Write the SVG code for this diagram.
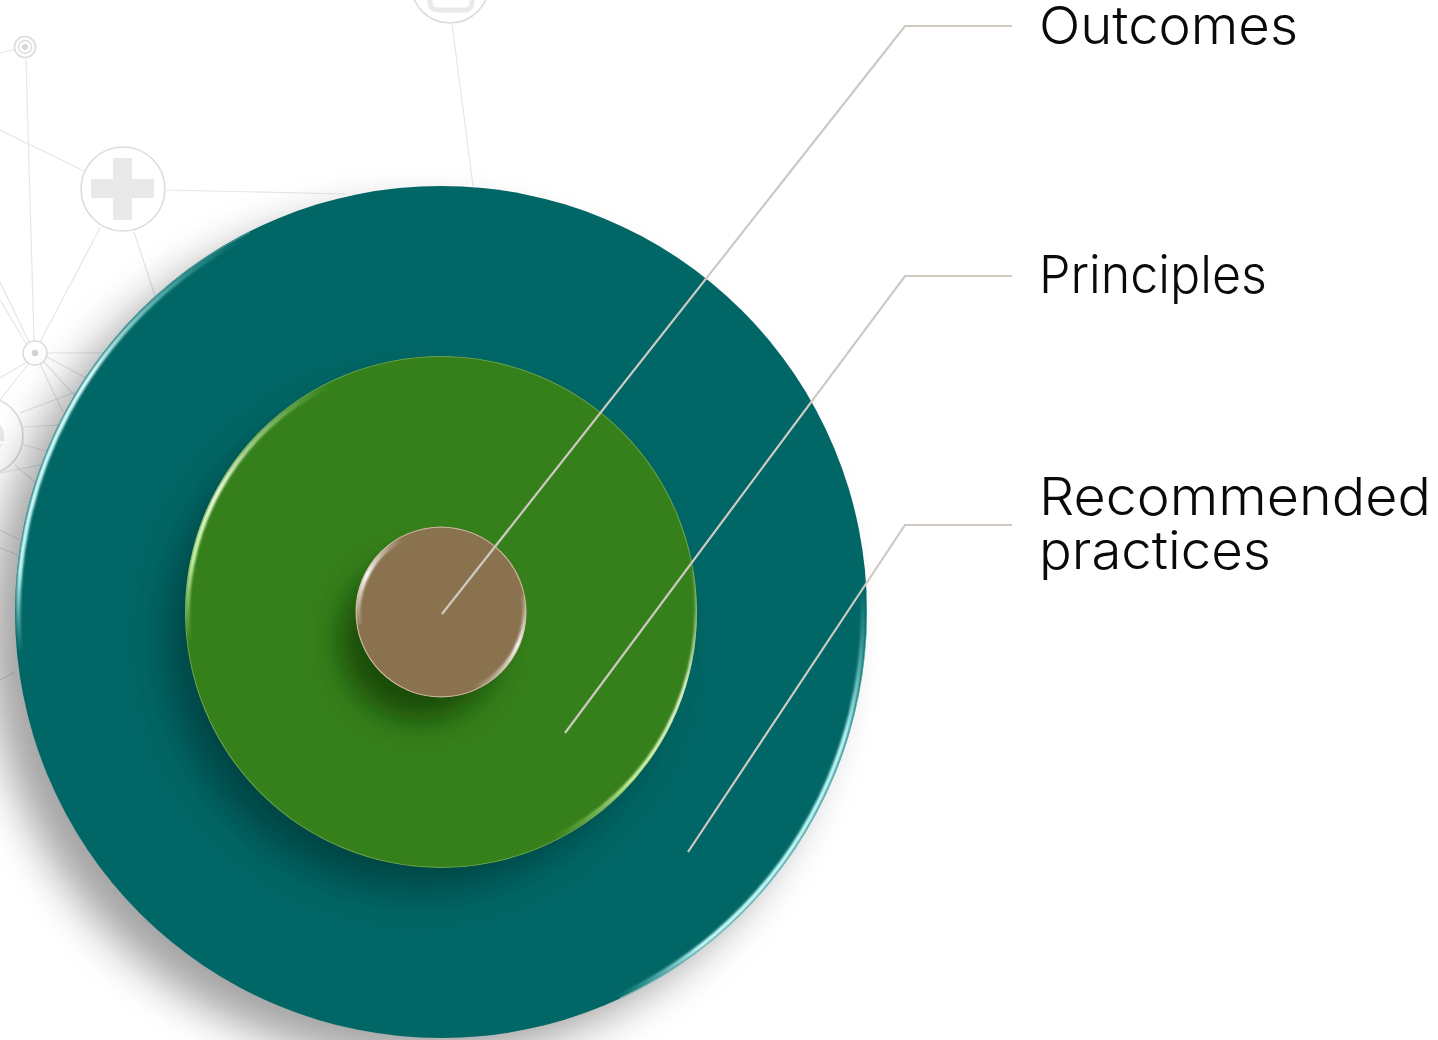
<svg xmlns="http://www.w3.org/2000/svg" width="1438" height="1040" viewBox="0 0 1438 1040">
<style>
.net{fill:none;stroke:#e6e6e6;stroke-width:1.2}
.ring{fill:#fff;stroke:#dcdcdc;stroke-width:1.6}
.glyph{fill:#e9e9e9}
.lead{fill:none;stroke:#cfc9c2;stroke-width:2.2}
.label{font-family:Inter,"Open Sans","Liberation Sans",sans-serif;font-weight:300;font-size:52px;fill:#0a0a0a}
.rim{fill:none;filter:url(#soft)}
</style>
<defs>
<filter id="shadowBig" x="-20%" y="-20%" width="140%" height="140%"><feGaussianBlur stdDeviation="22"/></filter>
<filter id="shadowMid" x="-30%" y="-30%" width="160%" height="160%"><feGaussianBlur stdDeviation="20"/></filter>
<filter id="shadowSmall" x="-50%" y="-50%" width="200%" height="200%"><feGaussianBlur stdDeviation="15"/></filter>
<filter id="soft" x="-10%" y="-10%" width="120%" height="120%"><feGaussianBlur stdDeviation=".8"/></filter>
<clipPath id="clipBig"><circle cx="441" cy="612" r="426"/></clipPath>
<clipPath id="clipMid"><circle cx="441" cy="612" r="256"/></clipPath>
<clipPath id="clipSmall"><circle cx="441" cy="612" r="85.5"/></clipPath>
<linearGradient id="bigA" gradientUnits="userSpaceOnUse" x1="16" y1="650" x2="240" y2="240"><stop offset="0" stop-color="#b4f8f8" stop-opacity="0"/><stop offset=".15" stop-color="#c8fcfc"/><stop offset=".6" stop-color="#e0ffff"/><stop offset="1" stop-color="#a6f4f4" stop-opacity="0"/></linearGradient>
<linearGradient id="bigB" gradientUnits="userSpaceOnUse" x1="866" y1="590" x2="610" y2="1005"><stop offset="0" stop-color="#a6f4f4" stop-opacity="0"/><stop offset=".28" stop-color="#c0fcfc"/><stop offset=".8" stop-color="#d0ffff"/><stop offset=".98" stop-color="#a6f4f4" stop-opacity="0"/></linearGradient>
<linearGradient id="midA" gradientUnits="userSpaceOnUse" x1="186" y1="640" x2="330" y2="385"><stop offset="0" stop-color="#d8ffb8" stop-opacity="0"/><stop offset=".25" stop-color="#c8f4a8"/><stop offset=".5" stop-color="#f0ffe0"/><stop offset="1" stop-color="#d8ffb8" stop-opacity="0"/></linearGradient>
<linearGradient id="midB" gradientUnits="userSpaceOnUse" x1="696" y1="570" x2="550" y2="845"><stop offset="0" stop-color="#d8ffb8" stop-opacity=".1"/><stop offset=".35" stop-color="#f4ffe8"/><stop offset=".7" stop-color="#c8f4a0"/><stop offset=".98" stop-color="#a8e080" stop-opacity="0"/></linearGradient>
<linearGradient id="smallA" gradientUnits="userSpaceOnUse" x1="358" y1="625" x2="402" y2="538"><stop offset="0" stop-color="#fff" stop-opacity=".1"/><stop offset=".5" stop-color="#fff"/><stop offset="1" stop-color="#fff" stop-opacity="0"/></linearGradient>
<linearGradient id="smallB" gradientUnits="userSpaceOnUse" x1="526" y1="595" x2="475" y2="690"><stop offset="0" stop-color="#fff" stop-opacity=".1"/><stop offset=".45" stop-color="#fff"/><stop offset="1" stop-color="#fff" stop-opacity="0"/></linearGradient>
</defs>
<rect width="1438" height="1040" fill="#fff"/>
<g id="background-network">
<path class="net" d="M452 24L473 186M166 190L345 194M0 130L84 171M26 58L34 341M100 228L40 342M134 232L155 296M0 53L14 50M0 282L29 342M0 300L27 345M45 353L105 353M47 357L90 380M44 362L75 396M40 364L63 412M27 362L0 378M29 363L0 400M20 413L75 392M23 427L60 425M23 445L50 452M0 473L40 465M15 465L38 485M0 530L20 540M0 548L18 555M0 680L15 672"/>
<circle class="ring" cx="450" cy="-16" r="39"/>
<rect x="430" y="-24" width="42" height="34" rx="7" fill="none" stroke="#e9e9e9" stroke-width="5"/>
<circle class="ring" cx="25" cy="47" r="10.500"/>
<circle cx="25" cy="47" r="6.500" fill="none" stroke="#dcdcdc" stroke-width="1.400"/>
<circle cx="25" cy="47" r="3" fill="#d6d6d6"/>
<circle class="ring" cx="123" cy="189" r="42"/>
<path class="glyph" d="M113 158H132V179H154V198H132V220H113V198H91V179H113Z"/>
<circle class="ring" cx="35" cy="353" r="12"/>
<circle cx="35" cy="353" r="3.200" fill="#d2d2d2"/>
<circle class="ring" cx="-16" cy="436" r="39"/>
<path class="glyph" d="M-16 418A18 18 0 0 1 4 434V441H-16V434H-4A10 10 0 0 0 -16 426ZM-16 444H2A18 18 0 0 1 -16 454V448Z"/>
</g>
<g id="disc-outer">
<circle cx="413" cy="636" r="424" fill="#000" opacity=".36" filter="url(#shadowBig)"/>
<circle cx="441" cy="612" r="426" fill="#016766"/>
<g clip-path="url(#clipBig)">
<path class="rim" d="M20 650A422 422 0 0 1 240 240" stroke="url(#bigA)" stroke-width="4.400"/>
<path class="rim" d="M862.500 590A422 422 0 0 1 610 1000" stroke="url(#bigB)" stroke-width="4.400"/>
<path d="M15.800 590A425.500 425.500 0 0 1 250 232" fill="none" stroke="#4a9c9c" stroke-width="1.500" opacity=".7"/>
<path d="M866.500 590A425.500 425.500 0 0 1 620 998" fill="none" stroke="#7fd0d0" stroke-width="1.200" opacity=".7"/>
</g>
</g>
<g id="disc-middle">
<circle cx="418" cy="640" r="250" fill="#012f2f" opacity=".6" filter="url(#shadowMid)"/>
<circle cx="441" cy="612" r="256" fill="#36801b"/>
<g clip-path="url(#clipMid)">
<path class="rim" d="M189 640A253 253 0 0 1 330 385" stroke="url(#midA)" stroke-width="4.400"/>
<path class="rim" d="M693.800 570A253 253 0 0 1 550 840" stroke="url(#midB)" stroke-width="4.400"/>
<circle cx="441" cy="612" r="255.500" fill="none" stroke="#9cc488" stroke-width="1.200" opacity=".5"/>
</g>
</g>
<g id="disc-inner">
<circle cx="420" cy="640" r="80" fill="#0f3606" opacity=".7" filter="url(#shadowSmall)"/>
<circle cx="441" cy="612" r="85.500" fill="#8a724e"/>
<g clip-path="url(#clipSmall)">
<path class="rim" d="M359 625A82.500 82.500 0 0 1 402 539" stroke="url(#smallA)" stroke-width="5"/>
<path class="rim" d="M523.500 595A83 83 0 0 1 475 688" stroke="url(#smallB)" stroke-width="5"/>
<circle cx="441" cy="612" r="85" fill="none" stroke="#d6c8b0" stroke-width="1.400" opacity=".8"/>
</g>
</g>
<g id="connectors">
<path class="lead" d="M442 614L905 26H1012"/>
<path class="lead" d="M565 733L905 276H1012"/>
<path class="lead" d="M688 852L905 525H1012"/>
</g>
<g id="label-outcomes"><text class="label" x="1039" y="44" textLength="259" lengthAdjust="spacingAndGlyphs">Outcomes</text></g>
<g id="label-principles"><text class="label" x="1039" y="293" textLength="228" lengthAdjust="spacingAndGlyphs">Principles</text></g>
<g id="label-practices"><text class="label" x="1039" y="515" textLength="392" lengthAdjust="spacingAndGlyphs">Recommended</text><text class="label" x="1039" y="569" textLength="232" lengthAdjust="spacingAndGlyphs">practices</text></g>
</svg>
